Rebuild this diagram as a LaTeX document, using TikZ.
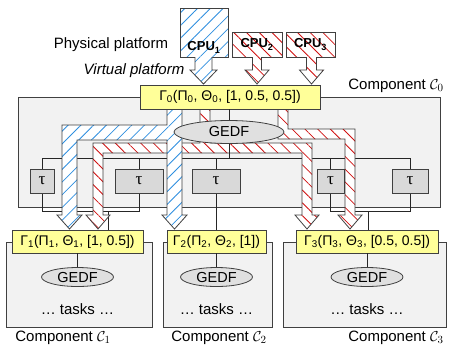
\documentclass[tikz,border=0pt]{standalone}
\usepackage{fontspec}
\setmainfont{Liberation Sans}
\newfontfamily\taufont{Liberation Serif}
\usetikzlibrary{patterns.meta,shapes.geometric}
\definecolor{edge}{HTML}{404040}
\definecolor{compfill}{HTML}{F2F2F2}
\definecolor{gfill}{HTML}{FFFF99}
\definecolor{taufill}{HTML}{D9D9D9}
\definecolor{ellfill}{HTML}{E0E0E0}
\definecolor{hblue}{HTML}{2F8FE0}
\definecolor{hred}{HTML}{D01010}
\begin{document}
\begin{tikzpicture}[x=1pt,y=-1pt,
  every node/.style={font=\fontsize{15}{17}\selectfont},
  comp/.style={draw=edge, fill=compfill, line width=0.8pt, minimum height=85pt, inner sep=0pt},
  gbox/.style={draw=edge, fill=gfill, line width=0.8pt, minimum height=23pt, inner sep=0pt, font=\fontsize{14}{16}\selectfont},
  taubox/.style={draw=edge, fill=taufill, line width=0.8pt, minimum height=24pt, inner sep=0pt, font=\taufont\fontsize{17}{19}\selectfont},
  sched/.style={ellipse, draw=edge, fill=ellfill, line width=0.8pt, inner sep=0pt, minimum width=72pt, minimum height=19pt, font=\fontsize{14.5}{17}\selectfont},
  link/.style={draw=black!85, line width=0.8pt},
  bandline/.style={draw=edge, line width=0.8pt, line join=miter},
  blueband/.style={bandline, preaction={fill=white}, pattern={Lines[angle=45,distance=9pt,line width=0.8pt]}, pattern color=hblue},
  redband/.style={bandline, preaction={fill=white}, pattern={Lines[angle=-45,distance=9pt,line width=0.8pt]}, pattern color=hred},
  cpubox/.style={draw=edge, line width=0.8pt, inner sep=0pt, preaction={fill=white}},
  cputxt/.style={font=\bfseries\fontsize{13}{15}\selectfont, inner sep=0pt},
  lbl/.style={inner sep=0pt},
]
\useasboundingbox (0,0) rectangle (449,346);

% component C0
\node[comp, minimum width=422pt, minimum height=110pt] (c0) at (229,152) {};
\node[lbl] (lc0) at (396,86) {Component $\mathcal{C}_0$};

% tree of connections to the tau boxes
\coordinate (busL) at (42,158);
\coordinate (busR) at (410,158);
\coordinate (j1) at (108,211);
\coordinate (j3) at (368,211);
\node[taubox, minimum width=24pt] (t1) at (42,181) {τ};
\node[taubox, minimum width=48pt] (t2) at (139,181) {τ};
\node[taubox, minimum width=48pt] (t3) at (216,181) {τ};
\node[taubox, minimum width=27pt] (t4) at (330.5,181) {τ};
\node[taubox, minimum width=36pt] (t5) at (410,181) {τ};

% bottom components
\node[comp, minimum width=146pt] (c1) at (79,284.5) {};
\node[comp, minimum width=109pt] (c2) at (217.5,284.5) {};
\node[comp, minimum width=163pt] (c3) at (364.5,284.5) {};
\node[gbox, minimum width=131pt] (g1) at (77.5,241.5) {Γ\textsubscript{1}(Π\textsubscript{1}, Θ\textsubscript{1}, [1, 0.5])};
\node[gbox, minimum width=99pt] (g2) at (216.5,241.5) {Γ\textsubscript{2}(Π\textsubscript{2}, Θ\textsubscript{2}, [1])};
\node[gbox, minimum width=142pt] (g3) at (367,241.5) {Γ\textsubscript{3}(Π\textsubscript{3}, Θ\textsubscript{3}, [0.5, 0.5])};
\node[sched] (e1) at (77.5,277) {GEDF};
\node[sched] (e2) at (216.5,277) {GEDF};
\node[sched] (e3) at (367,277) {GEDF};
\draw[link] (g1.south) -- (e1.north);
\draw[link] (g2.south) -- (e2.north);
\draw[link] (g3.south) -- (e3.north);
\node[lbl] (k1) at (77.5,309) {… tasks …};
\node[lbl] (k2) at (216.5,309) {… tasks …};
\node[lbl] (k3) at (367,309) {… tasks …};
\node[lbl] (lc1) at (63,338) {Component $\mathcal{C}_1$};
\node[lbl] (lc2) at (219,338) {Component $\mathcal{C}_2$};
\node[lbl] (lc3) at (396,338) {Component $\mathcal{C}_3$};

% tree lines
\draw[link] (busL) -- (busR);
\draw[link] (t1.north) -- (t1.north |- busL);
\draw[link] (t2.north) -- (t2.north |- busL);
\draw[link] (t3.north) -- (t3.north |- busL);
\draw[link] (t4.north) -- (t4.north |- busL);
\draw[link] (t5.north) -- (t5.north |- busL);
\draw[link] (t1.south) -- (t1.south |- j1) -| (t2.south);
\draw[link] (j1) -- (j1 |- g1.north);
\draw[link] (t3.south) -- (t3.south |- g2.north);
\draw[link] (t4.south) -- (t4.south |- j3) -| (t5.south);
\draw[link] (j3) -- (j3 |- g3.north);
% redraw tau boxes over lines
\node[taubox, minimum width=24pt] at (t1) {τ};
\node[taubox, minimum width=48pt] at (t2) {τ};
\node[taubox, minimum width=48pt] at (t3) {τ};
\node[taubox, minimum width=27pt] at (t4) {τ};
\node[taubox, minimum width=36pt] at (t5) {τ};

% red bands
\path[redband] (200,105) -- (200,143) -- (93,143) -- (93,215) -- (86,215) -- (98,229) -- (110,215) -- (103,215) -- (103,153) -- (302,153) -- (302,215) -- (295,215) -- (307,229) -- (319,215) -- (312,215) -- (312,143) -- (210,143) -- (210,105) -- cycle;
\path[redband] (278,105) -- (278,139) -- (345,139) -- (345,215) -- (338,215) -- (350,229) -- (362,215) -- (355,215) -- (355,129) -- (288,129) -- (288,105) -- cycle;
% blue band
\path[blueband] (167,105) -- (167,125) -- (62,125) -- (62,215) -- (57,215) -- (69.5,229) -- (82,215) -- (77,215) -- (77,140) -- (167,140) -- (167,215) -- (162,215) -- (174.5,229) -- (187,215) -- (182,215) -- (182,105) -- cycle;

% top scheduler and interface
\node[sched, minimum width=110pt, minimum height=23pt] (e0) at (229,132) {GEDF};
\node[gbox, minimum width=180pt, minimum height=24pt] (g0) at (230,97) {Γ\textsubscript{0}(Π\textsubscript{0}, Θ\textsubscript{0}, [1, 0.5, 0.5])};
\draw[link] (g0.south -| e0.north) -- (e0.north);
\draw[link] (e0.south) -- (e0.south |- busL);

% CPUs
\node[cpubox, minimum width=48pt, minimum height=49pt, pattern={Lines[angle=45,distance=9pt,line width=0.8pt]}, pattern color=hblue] (cpu1) at (204,32.5) {};
\node[cpubox, minimum width=50pt, minimum height=25pt, pattern={Lines[angle=-45,distance=9pt,line width=0.8pt]}, pattern color=hred] (cpu2) at (257,44.5) {};
\node[cpubox, minimum width=49pt, minimum height=25pt, pattern={Lines[angle=-45,distance=9pt,line width=0.8pt]}, pattern color=hred] (cpu3) at (310.5,44.5) {};
\node[cputxt] at ([yshift=10pt]cpu1.south) {CPU\textsubscript{1}};
\node[cputxt] at (cpu2) {CPU\textsubscript{2}};
\node[cputxt] at (cpu3) {CPU\textsubscript{3}};
\path[blueband] (195,57) -- (195,70) -- (190,70) -- (203.5,84) -- (217,70) -- (212,70) -- (212,57);
\path[redband] (252.5,57) -- (252.5,70) -- (245,70) -- (257,84) -- (269,70) -- (261.5,70) -- (261.5,57);
\path[redband] (306.5,57) -- (306.5,70) -- (299.5,70) -- (311.5,84) -- (323.5,70) -- (316.5,70) -- (316.5,57);

\node[lbl] (pp) at (111,45) {Physical platform};
\node[lbl] (vp) at (134,71) {\itshape Virtual platform};
\end{tikzpicture}
\end{document}
